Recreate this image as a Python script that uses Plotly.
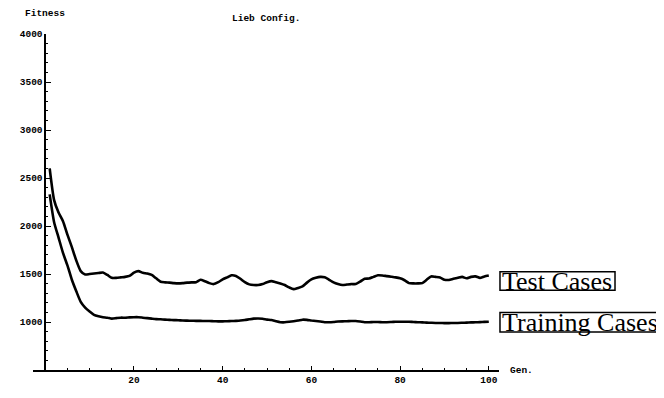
import plotly.graph_objects as go

gens = list(range(1, 101))
test_cases = [2600, 2270, 2140, 2050, 1910, 1780, 1640, 1530, 1495, 1500,
              1505, 1510, 1515, 1490, 1460, 1460, 1465, 1470, 1480, 1515,
              1530, 1512, 1505, 1490, 1455, 1420, 1413, 1410, 1405, 1402,
              1405, 1410, 1413, 1415, 1440, 1425, 1405, 1395, 1415, 1443,
              1465, 1487, 1480, 1450, 1415, 1392, 1385, 1385, 1395, 1415,
              1426, 1415, 1402, 1385, 1360, 1342, 1355, 1370, 1410, 1443,
              1460, 1470, 1465, 1440, 1412, 1395, 1385, 1390, 1395, 1395,
              1420, 1450, 1453, 1470, 1487, 1485, 1478, 1472, 1465, 1455,
              1435, 1405, 1402, 1402, 1405, 1440, 1475, 1470, 1463, 1440,
              1438, 1450, 1460, 1470, 1455, 1470, 1475, 1460, 1475, 1485]
training_cases = [2330, 2040, 1880, 1720, 1590, 1440, 1320, 1210, 1150, 1110,
                  1075, 1060, 1050, 1045, 1035, 1040, 1045, 1045, 1048, 1050,
                  1050, 1045, 1040, 1035, 1030, 1028, 1025, 1022, 1020, 1018,
                  1015, 1014, 1013, 1012, 1012, 1010, 1010, 1008, 1007, 1007,
                  1008, 1010, 1012, 1015, 1020, 1028, 1035, 1037, 1033, 1025,
                  1020, 1008, 998, 997, 1002, 1008, 1015, 1024, 1022, 1015,
                  1010, 1005, 998, 997, 1000, 1005, 1007, 1008, 1010, 1010,
                  1005, 998, 997, 1000, 1000, 998, 998, 1000, 1002, 1003,
                  1003, 1003, 1000, 998, 996, 994, 992, 990, 990, 988,
                  988, 990, 990, 992, 994, 996, 997, 999, 1001, 1003]
x_ticks = [20, 40, 60, 80, 100]
y_ticks = [1000, 1500, 2000, 2500, 3000, 3500, 4000]

OFF = 8  # browser body margin
W, H = 664 - OFF, 398 - OFF
L, T = 25 - OFF, 34 - OFF
PR, PB = 499 - OFF, 379 - OFF
R, B = W - PR, H - PB
PW, PH = PR - L, PB - T
XR = [-2.76, 102.3]
YR = [500, 4000]

def px(x):
    return (x - OFF - L) / PW

def py(y):
    return (PB - (y - OFF)) / PH

mono = dict(family="Liberation Mono", size=9.5, color="black", weight="bold")
serif = dict(family="Liberation Serif", size=26, color="black")

fig = go.Figure()
fig.add_trace(go.Scatter(x=gens, y=test_cases, mode="lines",
                         line=dict(color="black", width=2.6, shape="spline", smoothing=0.6),
                         showlegend=False))
fig.add_trace(go.Scatter(x=gens, y=training_cases, mode="lines",
                         line=dict(color="black", width=2.6, shape="spline", smoothing=0.6),
                         showlegend=False))

fig.update_layout(
    width=W, height=H,
    margin=dict(l=L, r=R, t=T, b=B),
    paper_bgcolor="white", plot_bgcolor="white",
    xaxis=dict(range=XR, tickvals=x_ticks, ticks="inside", ticklen=4, tickwidth=1,
               tickcolor="black", showline=True, linecolor="black", linewidth=1.5,
               showgrid=False, zeroline=False, tickfont=mono,
               minor=dict(dtick=5, tick0=0, ticks="inside", ticklen=2, tickcolor="black")),
    yaxis=dict(range=YR, tickvals=y_ticks, ticks="inside", ticklen=5, tickwidth=1,
               tickcolor="black", showline=True, linecolor="black", linewidth=1.5,
               showgrid=False, zeroline=False, tickfont=mono,
               anchor="free", position=(0 - XR[0]) / (XR[1] - XR[0]),
               minor=dict(dtick=100, tick0=0, ticks="inside", ticklen=2, tickcolor="black")),
)

annos = [
    dict(text="Fitness", x=px(37.5), y=py(13), font=mono),
    dict(text="Lieb Config.", x=px(262), y=py(18), font=mono),
    dict(text="Gen.", x=px(522), y=py(379), font=mono),
    dict(text="Test Cases", x=px(558), y=py(288), font=serif),
    dict(text="Training Cases", x=px(581), y=py(330), font=serif),
]
for a in annos:
    fig.add_annotation(xref="paper", yref="paper", showarrow=False,
                       xanchor="center", yanchor="middle", **a)

for (x0, y0, x1, y1) in [(500, 278, 617, 297), (500, 320, 662, 340)]:
    fig.add_shape(type="rect", xref="paper", yref="paper",
                  x0=px(x0), x1=px(x1), y0=py(y1), y1=py(y0),
                  line=dict(color="black", width=1.5))

fig.write_html("out.html")
